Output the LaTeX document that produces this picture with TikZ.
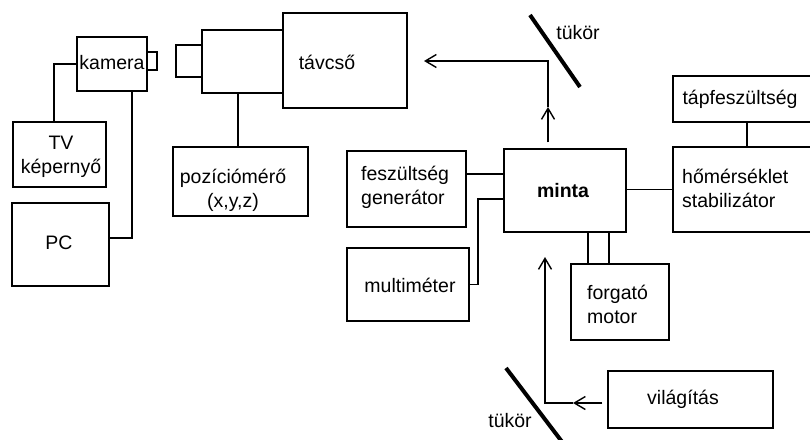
\documentclass[tikz,border=0pt]{standalone}
\usepackage{fontspec}
\setmainfont{Liberation Sans}
\usetikzlibrary{arrows.meta,calc}
\tikzset{
  box/.style={draw, line width=1.4pt, inner sep=0pt, rectangle},
  lbl/.style={inner sep=0pt, font=\fontsize{19.5}{24}\selectfont},
  wire/.style={line width=1.4pt},
  mirror/.style={line width=4pt},
  barb/.style={-{Straight Barb[length=11pt,width=13pt,line width=1.4pt]}},
}
\begin{document}
\begin{tikzpicture}[x=1pt,y=-1pt]
\useasboundingbox (0,0) rectangle (810,439);
\clip (0,0) rectangle (810,439);
\fill[white] (0,0) rectangle (810,439);
% left side
\node[box, minimum width=70pt, minimum height=54pt] (kamera) at (112,64) {};
\node[lbl] (kameraT) at (112,63) {kamera};
\draw[wire] (147,52) rectangle (157,70);
\node[box, minimum width=93pt, minimum height=65pt] (tv) at (59.5,154.5) {};
\node[lbl, align=center] (tvT) at (61,157) {TV\\képernyő};
\node[box, minimum width=97pt, minimum height=83pt] (pc) at (60.5,244.5) {};
\node[lbl] (pcT) at (59,243) {PC};
% telescope
\node[box, minimum width=26pt, minimum height=32pt] (tsmall) at (189,61) {};
\node[box, minimum width=81pt, minimum height=63pt] (tmid) at (242.5,61.5) {};
\node[box, minimum width=124pt, minimum height=95pt] (tbig) at (345,60.5) {};
\node[lbl] (tbigT) at (327,62) {távcső};
\node[box, minimum width=135pt, minimum height=69pt] (pos) at (240.5,181.5) {};
\node[lbl, align=center] (posT) at (233,190) {pozíciómérő\\(x,y,z)};
% middle
\node[box, minimum width=119pt, minimum height=76pt] (fg) at (406.5,189) {};
\node[lbl, align=left, anchor=west] (fgT) at (361,187) {feszültség\\generátor};
\node[box, minimum width=122pt, minimum height=73pt] (mm) at (408,284.5) {};
\node[lbl] (mmT) at (410,285) {multiméter};
\node[box, minimum width=122pt, minimum height=83pt] (minta) at (565,190.5) {};
\node[lbl, font=\fontsize{19.5}{24}\selectfont\bfseries] (mintaT) at (563,191) {minta};
\node[box, minimum width=98pt, minimum height=76pt] (fm) at (620,302) {};
\node[lbl, align=left, anchor=west] (fmT) at (587,304) {forgató\\motor};
\node[box, minimum width=165pt, minimum height=57pt] (vil) at (690.5,399.5) {};
\node[lbl] (vilT) at (683,399) {világítás};
% right
\node[box, minimum width=148pt, minimum height=46pt] (tap) at (747,99) {};
\node[lbl] (tapT) at (740,99) {tápfeszültség};
\node[box, minimum width=148pt, minimum height=85pt] (hom) at (747,189.5) {};
\node[lbl, align=left, anchor=west] (homT) at (682,188) {hőmérséklet\\stabilizátor};
% connectors left
\draw[wire] (kamera.west) -| ($(tv.north)+(-5.5,0)$);
\draw[wire] ($(kamera.south)+(20,0)$) |- ($(pc.east)+(0,-6.5)$);
\coordinate (tm) at ($(tmid.south)+(-4.5,0)$);
\draw[wire] (tm) -- (tm |- pos.north);
% connectors middle
\coordinate (fgo) at ($(fg.east)+(0,-15)$);
\draw[wire] (fgo) -- (fgo -| minta.west);
\coordinate (mj) at (478,199);
\draw[wire] (mm.east) -| (mj) -- (mj -| minta.west);
\draw[wire] (minta.east |- hom.west) -- (hom.west);
\draw[wire] (tap.south) -- (hom.north);
\coordinate (f1) at ($(minta.south)+(23,0)$);
\coordinate (f2) at ($(minta.south)+(44,0)$);
\draw[wire] (f1) -- (f1 |- fm.north);
\draw[wire] (f2) -- (f2 |- fm.north);
% light path top
\coordinate (m0) at ($(minta.north)+(-17,-6)$);
\coordinate (m1) at (548,107);
\coordinate (m2) at (548,61);
\coordinate (m3) at (424,61);
\draw[wire, barb] (m0) -- (m1);
\draw[wire, barb] (m1) -- (m2) -- (m3);
% light path bottom
\coordinate (v0) at ($(vil.west)+(-5,3.5)$);
\coordinate (v1) at (573,403);
\coordinate (v2) at (545,403);
\coordinate (v3) at (545,257);
\draw[wire, barb] (v0) -- (v1);
\draw[wire, barb] (v1) -- (v2) -- (v3);
% mirrors
\draw[mirror] (530,15) -- (580,87);
\node[lbl] (tukor1) at (578,33) {tükör};
\draw[mirror] (506,368) -- (566,447);
\node[lbl] (tukor2) at (510,421) {tükör};
\end{tikzpicture}
\end{document}
